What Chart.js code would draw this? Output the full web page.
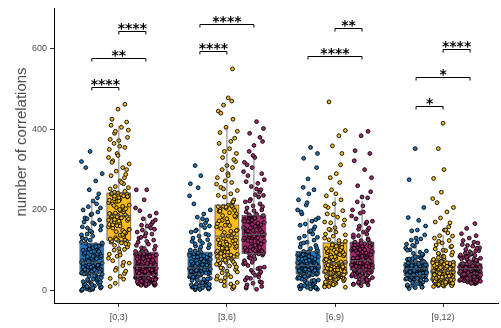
<!DOCTYPE html>
<html>
<head>
<meta charset="utf-8">
<script src="https://cdn.jsdelivr.net/npm/chart.js@4.4.1/dist/chart.umd.min.js"></script>
<style>
  html, body { margin: 0; padding: 0; background: #fff; }
  #wrap { width: 501px; height: 328px; }
</style>
</head>
<body>
<div id="wrap"><canvas id="chart" width="501" height="328"></canvas></div>
<script>
// categories (time windows) and series
const CATS = ["[0,3)", "[3,6)", "[6,9)", "[9,12)"];
const SERIES = ["blue", "yellow", "magenta"];

// box stats: [group][series]
const BOX_Q1 = [[43, 124, 37], [39, 80, 92], [41, 43, 51], [37, 29, 41]];
const BOX_MED = [[70, 186, 60], [56, 135, 139], [62, 68, 74], [54, 48, 54]];
const BOX_Q3 = [[117, 242, 95], [95, 212, 186], [97, 118, 120], [69, 73, 66]];
const WHISK_LO = [[0, 10, 12], [2, 5, 3], [3, 8, 12], [5, 10, 17]];
const WHISK_HI = [[228, 409, 182], [178, 405, 325], [180, 231, 223], [115, 138, 103]];

// jittered points, one list per group and series
const B1 = [0,1,2,3,4,5,6,8,9,11,12,14,16,18,20,22,24,26,28,30,33,35,38,40,42,
  43,44,45,46,47,48,49,50,51,52,53,54,55,56,57,58,59,60,61,62,64,65,66,68,69,
  70,72,74,76,78,80,82,84,86,88,90,92,94,96,98,100,102,104,106,108,110,112,114,115,117,
  120,125,130,135,140,145,150,155,160,165,170,175,180,188,195,200,208,215,222,230,
  240,250,272,290,305,320,345,
  3,7,10,15,21,27,32,37,41,46,52,58,63,67,73,79,85,91,97,103,109,118,128,138,148,158,168,178,190,205];
const Y1 = [10,18,28,35,42,48,55,62,68,74,80,85,90,95,100,104,108,112,115,118,120,122,123,124,
  125,128,131,134,137,140,143,146,149,152,155,158,161,164,167,170,172,174,176,178,180,182,184,185,186,
  188,190,192,195,198,200,203,206,209,212,215,218,221,224,226,228,230,232,234,236,238,239,240,241,242,
  246,252,258,265,272,280,288,296,305,314,322,330,340,350,358,365,372,380,390,398,405,410,418,425,450,462,
  30,50,70,88,102,116,127,139,151,163,175,183,191,201,211,222,233,244,255,268,285,300,318,335,355,375,395,235,160,145];
const M1 = [12,13,14,15,16,17,18,19,20,21,22,23,24,25,26,27,28,29,30,31,32,33,34,35,36,
  37,38,39,40,41,42,43,44,45,46,47,48,49,50,51,52,53,54,55,56,57,58,59,60,60,
  61,62,63,64,66,68,70,72,74,76,78,80,82,83,84,85,86,87,88,89,90,91,92,94,95,
  98,102,106,110,115,120,125,130,135,140,145,150,155,160,165,170,178,185,192,198,205,225,250,250,
  13,16,19,23,27,31,35,39,43,47,51,55,59,63,67,71,75,79,84,88,92,97,104,112,122,132,142,152,162,175];
const B2 = [2,3,4,5,6,7,8,9,10,12,13,14,16,18,20,22,24,26,28,30,32,34,36,37,38,
  39,40,41,42,43,44,45,45,46,47,47,48,49,49,50,51,51,52,53,53,54,54,55,55,56,
  57,58,60,61,62,64,65,66,68,70,71,72,74,76,78,80,82,84,86,88,90,91,92,94,95,
  98,102,106,110,114,118,122,126,130,135,140,145,150,156,162,168,175,182,190,200,215,235,255,265,285,310,
  3,6,9,15,19,25,29,33,41,44,48,50,52,56,59,63,67,73,77,83,87,93,100,108,116,124,138,148,160,178];
const Y2 = [5,8,12,16,20,24,28,32,36,40,44,48,52,55,58,61,64,66,68,70,72,74,76,78,80,
  82,84,86,88,90,92,94,96,98,100,102,104,106,108,110,112,114,116,118,120,123,126,129,132,135,
  138,141,144,147,150,154,158,162,166,170,174,178,182,186,190,193,196,199,202,204,206,208,209,210,212,
  218,225,232,240,248,256,264,272,280,290,300,310,320,330,340,352,365,378,392,405,425,445,460,470,478,550,
  10,22,34,46,56,65,75,85,95,105,115,125,137,149,161,173,185,197,207,220,236,252,268,285,305,325,345,370,395,440];
const M2 = [3,6,10,14,18,22,26,30,34,38,42,46,50,54,58,62,66,70,74,78,82,85,88,90,92,
  94,96,98,100,102,104,106,108,110,112,114,116,118,120,122,124,126,128,130,132,134,135,136,138,139,
  141,143,145,147,149,151,153,155,157,159,161,163,165,167,169,171,173,175,177,179,181,182,184,185,186,
  190,195,200,205,210,215,220,226,232,238,244,250,258,266,275,285,295,305,318,330,345,360,370,390,402,419,
  8,20,32,44,56,68,80,91,99,107,115,123,131,140,148,156,164,172,180,188,198,208,222,236,252,270,290,312,335,380];
const B3 = [3,4,5,6,7,8,9,10,12,14,16,18,20,22,24,26,28,30,32,34,36,37,38,40,41,
  42,43,44,45,46,47,48,49,50,51,52,53,54,55,55,56,57,57,58,59,59,60,61,61,62,
  63,64,65,66,67,68,70,71,72,74,75,76,78,80,82,84,86,88,90,91,92,93,94,96,97,
  100,104,108,112,116,120,125,130,135,140,146,152,158,165,172,180,190,200,212,225,240,256,277,305,328,340,355,
  4,8,13,19,25,31,35,39,43,47,50,53,56,60,64,69,73,79,85,89,95,106,118,132,148,162,176,195,218,250];
const Y3 = [8,10,12,14,16,18,20,22,24,26,28,29,30,31,32,33,34,35,36,37,38,39,40,42,43,
  44,45,46,47,48,49,50,51,52,53,54,55,56,57,58,59,60,61,62,63,64,65,66,67,68,
  70,72,74,76,78,80,82,84,86,88,90,92,94,96,98,100,102,104,106,108,110,112,114,116,118,
  122,126,130,135,140,145,150,156,162,168,175,182,190,198,206,215,225,235,250,268,290,312,340,359,384,397,468,
  9,15,21,27,31,35,39,43,47,51,55,59,63,67,71,77,83,89,95,101,107,113,124,138,152,170,188,210,240,280];
const M3 = [12,14,16,18,20,22,24,26,28,30,32,34,36,38,40,42,43,44,45,46,47,48,49,50,51,
  52,53,54,55,56,57,58,59,60,61,62,63,64,65,66,67,68,69,70,70,71,72,73,73,74,
  76,78,80,82,84,86,88,90,92,94,96,98,100,102,104,106,108,110,112,114,115,116,118,119,120,
  124,128,132,136,140,145,150,155,160,166,172,178,185,192,200,210,220,232,245,260,280,300,322,340,347,384,395,
  15,21,27,33,39,44,48,52,56,60,64,68,72,77,81,85,89,93,97,101,105,109,113,117,126,138,152,170,195,230];
const B4 = [5,7,9,11,13,15,17,19,21,23,25,26,27,28,29,30,31,32,33,34,34,35,36,36,37,
  38,39,39,40,41,41,42,43,43,44,45,45,46,47,47,48,49,49,50,51,51,52,53,53,54,
  55,55,56,57,57,58,58,59,60,60,61,62,62,63,63,64,65,65,66,66,67,67,68,68,69,
  71,73,75,77,79,81,83,86,89,92,95,98,101,105,110,115,120,125,130,138,148,160,174,181,206,275,352,
  8,14,20,26,30,33,36,39,42,44,46,48,50,52,54,56,58,60,62,64,66,68,72,78,84,90,100,112,128,150];
const Y4 = [10,11,12,13,14,15,16,17,18,19,20,20,21,22,22,23,24,24,25,26,26,27,28,28,29,
  30,31,32,33,34,34,35,36,37,38,38,39,40,41,42,42,43,44,45,45,46,46,47,47,48,
  49,50,51,52,53,54,55,56,57,58,59,60,61,62,63,64,65,66,67,68,69,70,71,72,73,
  76,79,82,85,88,91,95,99,103,108,113,118,124,130,136,143,150,158,168,180,195,206,218,228,244,278,300,352,415,
  12,15,18,21,24,27,30,33,36,39,42,45,48,51,54,57,60,63,66,69,72,77,84,92,100,110,122,135,150,170];
const M4 = [17,18,19,20,21,22,23,24,25,26,27,28,29,30,31,32,33,34,35,36,37,38,39,40,41,
  41,42,42,43,43,44,44,45,45,46,46,47,47,48,48,49,49,50,50,51,51,52,52,53,54,
  54,55,55,56,56,57,57,58,58,59,59,60,60,61,61,62,62,63,63,64,64,65,65,66,66,
  68,70,72,74,76,78,80,82,84,86,88,90,93,96,99,102,106,110,114,118,124,130,136,141,154,166,
  18,22,26,30,34,38,40,43,45,47,49,51,53,55,57,59,61,63,65,67,71,75,79,83,87,92,98,105,112,120];
const POINTS = [[B1, Y1, M1], [B2, Y2, M2], [B3, Y3, M3], [B4, Y4, M4]];

// significance brackets
const BR_GROUP = [0, 0, 0, 1, 1, 2, 2, 3, 3, 3];
const BR_FROM = [0, 0, 1, 0, 0, 1, 0, 1, 0, 0];
const BR_TO = [1, 2, 2, 1, 2, 2, 2, 2, 2, 1];
const BR_Y = [505, 576, 645, 595, 662, 652, 582, 599, 529, 459];
const BR_LABEL = ["****", "**", "****", "****", "****", "**", "****", "****", "*", "*"];

// styling
const COLORS = ["#1d78bd", "#f8bd1c", "#a6296f"];
const DODGE = [-0.25, 0, 0.25];
const HALF_BOX = 0.11;
const JITTER = [-0.096, 0.012, 0.072, -0.044, 0.036, -0.08, 0.088, -0.016, 0.052, -0.064, 0.0, 0.096,
  -0.032, 0.024, -0.088, 0.064, -0.008, 0.08, -0.056, 0.044, -0.072, 0.008, -0.024, 0.056, -0.04];
const TEXT_GREY = "#4d4d4d";
const SANS = "'Liberation Sans', Arial, sans-serif";
const NARROW = "'Liberation Sans Narrow', 'Liberation Sans', sans-serif";

function buildDatasets() {
  return SERIES.map((name, s) => {
    const data = [];
    POINTS.forEach((grp, g) => {
      grp[s].forEach((v, i) => {
        const j = JITTER[(i * 7 + g * 3 + s * 5) % JITTER.length];
        data.push({ x: g + 1 + DODGE[s] + j, y: v });
      });
    });
    return {
      label: name,
      data,
      backgroundColor: COLORS[s],
      borderColor: "#000",
      borderWidth: 0.9,
      pointRadius: 1.9,
      pointHoverRadius: 1.9,
    };
  });
}

function drawBoxes(chart, mode) {
  const { ctx, scales: { x, y } } = chart;
  ctx.save();
  for (let g = 0; g < CATS.length; g++) {
    for (let s = 0; s < SERIES.length; s++) {
      const cx = g + 1 + DODGE[s];
      const l = x.getPixelForValue(cx - HALF_BOX);
      const r = x.getPixelForValue(cx + HALF_BOX);
      const m = x.getPixelForValue(cx);
      const top = y.getPixelForValue(BOX_Q3[g][s]);
      const bot = y.getPixelForValue(BOX_Q1[g][s]);
      if (mode === "fill") {
        ctx.fillStyle = COLORS[s];
        ctx.fillRect(l, top, r - l, bot - top);
      } else {
        ctx.strokeStyle = "#555";
        ctx.lineWidth = 0.8;
        ctx.beginPath();
        ctx.moveTo(m, y.getPixelForValue(WHISK_HI[g][s]));
        ctx.lineTo(m, top);
        ctx.moveTo(m, bot);
        ctx.lineTo(m, y.getPixelForValue(WHISK_LO[g][s]));
        ctx.stroke();
        ctx.strokeRect(l, top, r - l, bot - top);
        const med = y.getPixelForValue(BOX_MED[g][s]);
        ctx.lineWidth = 1.1;
        ctx.beginPath();
        ctx.moveTo(l, med);
        ctx.lineTo(r, med);
        ctx.stroke();
      }
    }
  }
  ctx.restore();
}

function drawBrackets(chart) {
  const { ctx, scales: { x, y } } = chart;
  ctx.save();
  ctx.strokeStyle = "#000";
  ctx.fillStyle = "#000";
  ctx.lineWidth = 1;
  ctx.font = "bold 14px 'DejaVu Sans', sans-serif";
  ctx.textAlign = "center";
  ctx.textBaseline = "alphabetic";
  BR_Y.forEach((val, k) => {
    const g = BR_GROUP[k] + 1;
    const x1 = x.getPixelForValue(g + DODGE[BR_FROM[k]]);
    const x2 = x.getPixelForValue(g + DODGE[BR_TO[k]]);
    const yy = Math.round(y.getPixelForValue(val)) + 0.5;
    ctx.beginPath();
    ctx.moveTo(x1, yy + 3);
    ctx.lineTo(x1, yy);
    ctx.lineTo(x2, yy);
    ctx.lineTo(x2, yy + 3);
    ctx.stroke();
    ctx.fillText(BR_LABEL[k], (x1 + x2) / 2, yy + 1.5);
  });
  ctx.restore();
}

function drawYTitle(chart) {
  const { ctx } = chart;
  ctx.save();
  ctx.translate(22, 142);
  ctx.rotate(-Math.PI / 2);
  ctx.fillStyle = TEXT_GREY;
  ctx.font = "15px " + SANS;
  ctx.textAlign = "center";
  ctx.textBaseline = "middle";
  ctx.fillText("number of correlations", 0, 0);
  ctx.restore();
}

const boxPlugin = {
  id: "boxes",
  beforeDatasetsDraw(chart) { drawBoxes(chart, "fill"); },
  afterDatasetsDraw(chart) {
    drawBoxes(chart, "stroke");
    drawBrackets(chart);
    drawYTitle(chart);
  },
};

new Chart(document.getElementById("chart"), {
  type: "scatter",
  data: { datasets: buildDatasets() },
  plugins: [boxPlugin],
  options: {
    responsive: false,
    animation: false,
    layout: { padding: { top: 8, left: 0, right: 0, bottom: 0 } },
    plugins: { legend: { display: false }, tooltip: { enabled: false } },
    scales: {
      x: {
        type: "linear",
        min: 0.4,
        max: 4.51,
        afterBuildTicks: (sc) => { sc.ticks = [1, 2, 3, 4].map((v) => ({ value: v })); },
        afterFit: (sc) => { sc.height = 25; },
        ticks: {
          callback: (v) => CATS[v - 1],
          color: TEXT_GREY,
          font: { size: 9, family: NARROW },
          padding: 5,
          maxRotation: 0,
        },
        grid: { drawOnChartArea: false, drawTicks: true, tickLength: 4, color: "#333" },
        border: { display: true, color: "#000", width: 1 },
      },
      y: {
        min: -31,
        max: 700,
        afterBuildTicks: (sc) => { sc.ticks = [0, 200, 400, 600].map((v) => ({ value: v })); },
        afterFit: (sc) => { sc.width = 54; },
        ticks: {
          color: TEXT_GREY,
          font: { size: 9, family: NARROW },
          padding: 3,
        },
        grid: { drawOnChartArea: false, drawTicks: true, tickLength: 4, color: "#333" },
        border: { display: true, color: "#000", width: 1 },
      },
    },
  },
});
</script>
</body>
</html>
